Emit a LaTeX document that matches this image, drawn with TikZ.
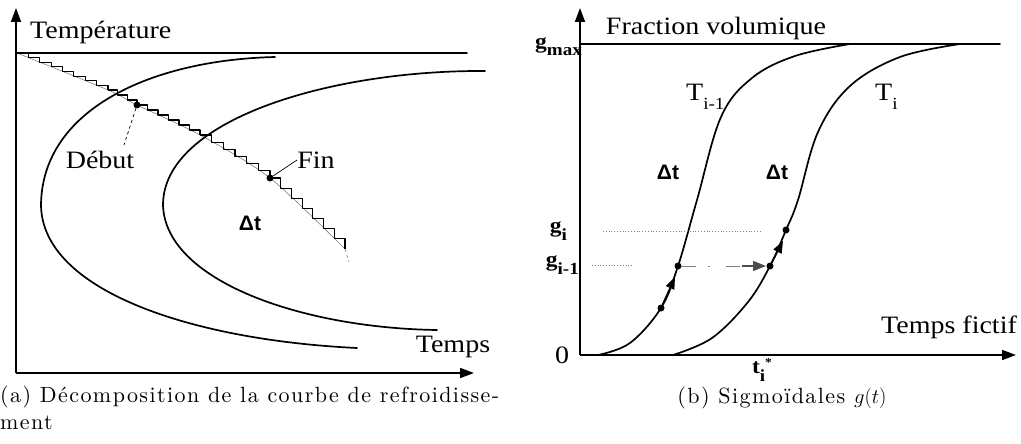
\documentclass[tikz,border=0pt]{standalone}
\usepackage{fontspec}
\newfontfamily\figfont[FakeStretch=1.12]{Liberation Serif}
\newfontfamily\figsans{Liberation Sans}
\newfontfamily\capfont[Extension=.otf,LetterSpace=6.5]{lmroman10-regular}
\usetikzlibrary{arrows.meta,calc}
\newcommand{\lowtxt}[1]{\raisebox{-0.35em}{\fontsize{17}{17}\selectfont #1}}
\begin{document}
\begin{tikzpicture}[x=1pt,y=-1pt,
  curve/.style={line width=1.7pt,line cap=round},
  axis/.style={line width=1.7pt,-{Triangle[length=14pt,width=10pt]}},
  lbl/.style={font=\figfont\fontsize{25}{25}\selectfont,inner sep=0pt},
  dlbl/.style={font=\figsans\bfseries\fontsize{21}{21}\selectfont,inner sep=0pt},
  glbl/.style={font=\figfont\bfseries\fontsize{21}{21}\selectfont,inner sep=0pt},
  captxt/.style={font=\capfont\fontsize{22}{27}\selectfont,inner sep=0pt},
  dot/.style={circle,fill=black,inner sep=0pt,minimum size=7pt},
  tip/.style={-{Triangle[length=12pt,width=9pt]},line width=1.5pt},
  stair/.style={line width=1.1pt,line join=round},
  lead/.style={line width=0.7pt}]
\useasboundingbox (0,0) rectangle (1021,444);
% ---------------- panel (a)
\coordinate (oA) at (16,373);
\coordinate (yA) at (16,8);
\coordinate (xA) at (474,373);
\draw[axis] (oA) -- (yA);
\draw[axis] (oA) -- (xA);
\draw[curve] (16,53) -- (467,53);
% cooling curve and its staircase
\draw[line width=0.6pt,gray] plot[smooth,tension=0.5] coordinates {(17,53) (108,90) (137,105) (200,135) (270,178) (345,249)};
\draw[line width=0.6pt,gray,dashed] (345,249) -- (349,262);
\foreach \xa/\ya/\xb/\yb/\n in {17/53/108/90/8, 108/90/137/105/3, 137/105/200/135/6, 200/135/270/178/6, 270/178/345/249/7}
  \draw[stair] (\xa,\ya) foreach \i in {1,...,\n} { -- ++({(\xb-\xa)/\n},0) -- ++(0,{(\yb-\ya)/\n}) };
% C curves
\draw[curve] (275,57) .. controls (150,60) and (42,110) .. (41,205)
  .. controls (42,290) and (190,340) .. (357,348);
\draw[curve] (485,71) .. controls (330,70) and (163,120) .. (163,205)
  .. controls (165,280) and (300,328) .. (437,330);
\node[dot,minimum size=7pt] (deb) at (137,105) {};
\node[dot,minimum size=7pt] (fin) at (270,178) {};
\node[lbl] (tdeb) at (100,160) {Début};
\node[lbl] (tfin) at (316,160) {Fin};
\coordinate (debend) at (124,145);
\draw[lead,dashed] (deb) -- (debend);
\draw[lead] (fin) -- (tfin.west);
\node[dlbl] (dtA) at (250,223) {Δt};
\node[lbl,anchor=west] (tempA) at (30,32) {Température};
\node[lbl] (tempsA) at (453,347) {Temps};
\node[captxt,anchor=north west,align=left] (capA) at (0,386) {(a) Décomposition de la courbe de refroidisse-\\ment};
% ---------------- panel (b)
\coordinate (oB) at (580,355);
\coordinate (yB) at (580,8);
\coordinate (xB) at (1016,355);
\draw[axis] (oB) -- (yB);
\draw[axis] (oB) -- (xB);
\draw[curve] (580,44) -- (1000,44);
\draw[curve] plot[smooth,tension=0.6] coordinates {(598,355) (630,343) (661,308) (678,266) (697,200) (721,117) (752,78) (795,56) (850,44)};
\draw[curve] plot[smooth,tension=0.6] coordinates {(673,355) (712,338) (748,302) (770,266) (786,230) (798,200) (818,132) (850,86) (900,57) (960,44)};
\node[dot] (p1) at (661,308) {};
\node[dot] (p2) at (678,266) {};
\node[dot] (p3) at (770,266) {};
\node[dot] (p4) at (786,230) {};
\coordinate (a1) at (675,277);
\coordinate (a2) at (783,241);
\coordinate (a3) at (766,266);
\draw[tip] (p1) -- (a1);
\draw[tip] (p3) -- (a2);
\draw[line width=1pt,gray,dash pattern=on 14pt off 12pt on 2pt off 16pt] (p2) -- (a3);
\draw[-{Triangle[length=13pt,width=10pt]},line width=1.2pt,black!70] ($(a3)+(-24,0)$) -- (a3);
% dotted guides
\node[glbl,anchor=east] (gi) at (567,231) {g\lowtxt{i}};
\node[glbl,anchor=east] (gim) at (579,265) {g\lowtxt{i-1}};
\node[glbl,anchor=east] (gmax) at (582,47) {g\lowtxt{max}};
\coordinate (gd1) at (603,231);
\coordinate (gd2) at (760,231);
\coordinate (gd3) at (592,265);
\coordinate (gd4) at (633,265);
\draw[line width=0.8pt,gray,dotted] (gd1) -- (gd2);
\draw[line width=0.8pt,gray,dotted] (gd3) -- (gd4);
\node[lbl] (zero) at (562,355) {0};
\node[lbl,anchor=west] (Tim) at (686,97) {T\lowtxt{i-1}};
\node[lbl,anchor=west] (Ti) at (875,97) {T\lowtxt{i}};
\node[dlbl] (dtB1) at (668,172) {Δt};
\node[dlbl] (dtB2) at (777,172) {Δt};
\node[lbl] (tf) at (949,327) {Temps fictif};
\node[lbl] (frac) at (716,28) {Fraction volumique};
\node[glbl] (tstar) at (762,370) {t\lowtxt{i}\raisebox{0.35em}{\fontsize{12}{12}\selectfont *}};
\node[captxt] (capB) at (782,398) {(b) Sigmoïdales $g(t)$};
\end{tikzpicture}
\end{document}
